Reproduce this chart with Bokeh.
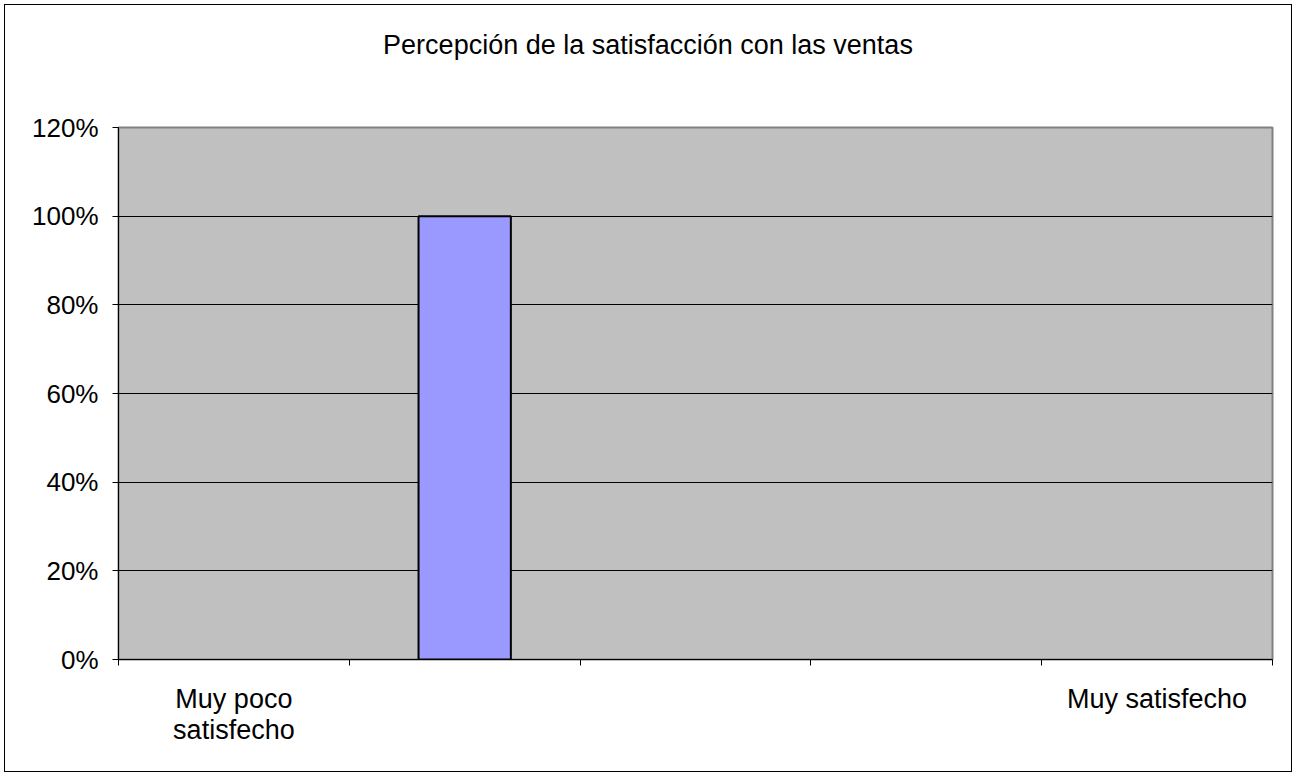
from bokeh.plotting import figure
from bokeh.layouts import column
from bokeh.models import Range1d, FixedTicker, NumeralTickFormatter, ColumnDataSource, Div
from bokeh.embed import file_html
from bokeh.resources import INLINE

# Survey answers: share of respondents per satisfaction level
category_labels = ["Muy poco\nsatisfecho", "", "", "", "Muy satisfecho"]
shares = [0.0, 1.0, 0.0, 0.0, 0.0]
y_ticks = [0.0, 0.2, 0.4, 0.6, 0.8, 1.0, 1.2]
title_text = "Percepción de la satisfacción con las ventas"

FONT = "Liberation Sans"

n = len(shares)
centers = [i + 0.5 for i in range(n)]

W = 1286
TITLE_H = 102

title = Div(
    text=title_text, width=W, height=TITLE_H, margin=0,
    styles={
        "font-family": FONT, "font-size": "27px", "color": "black",
        "text-align": "center", "padding-top": "25px",
        "box-sizing": "border-box", "line-height": "normal",
    },
)

p = figure(
    width=W, height=766 - TITLE_H,
    x_range=Range1d(0, n), y_range=Range1d(0, 1.2),
    output_backend="svg", toolbar_location=None,
    min_border_left=113, min_border_right=19,
    min_border_top=20, min_border_bottom=112,
)
p.margin = 0

p.background_fill_color = "#C0C0C0"
p.border_fill_color = "white"
p.outline_line_color = "#808080"
p.outline_line_width = 2

# Bars (only non-empty categories are visible)
xs = [c for c, v in zip(centers, shares) if v > 0]
vs = [v for v in shares if v > 0]
src = ColumnDataSource(dict(x=xs, top=vs))
p.vbar(x="x", top="top", bottom=0, width=0.4, source=src,
       fill_color="#9999FF", line_color="black", line_width=2)

# Y axis
yax = p.yaxis[0]
yax.ticker = FixedTicker(ticks=y_ticks)
yax.formatter = NumeralTickFormatter(format="0%")
yax.major_label_text_font = FONT
yax.major_label_text_font_size = "26px"
yax.major_label_text_color = "black"
yax.major_tick_out = 6
yax.major_tick_in = 0
yax.minor_tick_out = 0
yax.minor_tick_in = 0
yax.major_label_standoff = 14
yax.axis_line_color = "black"
yax.major_tick_line_color = "black"

# X axis: labels centred on categories, ticks on category boundaries
xax = p.xaxis[0]
xax.ticker = FixedTicker(ticks=centers, minor_ticks=list(range(n + 1)))
xax.major_label_overrides = {c: lab for c, lab in zip(centers, category_labels)}
xax.major_tick_out = 0
xax.major_tick_in = 0
xax.minor_tick_out = 6
xax.minor_tick_in = 0
xax.minor_tick_line_color = "black"
xax.axis_line_color = "black"
xax.major_label_text_font = FONT
xax.major_label_text_font_size = "27px"
xax.major_label_text_color = "black"
xax.major_label_text_line_height = 1.05
xax.major_label_standoff = 18

# Grid
p.xgrid.visible = False
p.ygrid.ticker = FixedTicker(ticks=y_ticks[1:-1])
p.ygrid.grid_line_color = "black"
p.ygrid.grid_line_width = 1

page = column(title, p, spacing=0)
page.margin = (5, 5, 5, 5)
page.styles = {"outline": "1px solid black", "background-color": "white"}

open("out.html", "w").write(file_html(page, INLINE))
